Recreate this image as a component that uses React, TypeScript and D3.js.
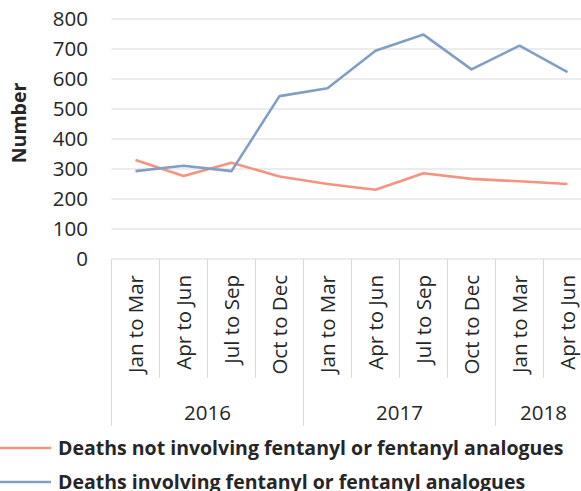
import React from "react";
import * as d3 from "d3";

const categories = [
  "Jan to Mar", "Apr to Jun", "Jul to Sep", "Oct to Dec",
  "Jan to Mar", "Apr to Jun", "Jul to Sep", "Oct to Dec",
  "Jan to Mar", "Apr to Jun",
];
const years = ["2016", "2017", "2018"];
const yearCounts = [4, 4, 2];
const notInvolving = [330, 277, 321, 275, 250, 231, 286, 267, 259, 250];
const involving = [293, 311, 293, 543, 569, 694, 748, 632, 711, 623];
const yTicks = [0, 100, 200, 300, 400, 500, 600, 700, 800];
const seriesNames = [
  "Deaths not involving fentanyl or fentanyl analogues",
  "Deaths involving fentanyl or fentanyl analogues",
];
const seriesColors = ["#F4937F", "#819FC5"];

const W = 581;
const H = 491;
const FONT = "'Open Sans', 'DejaVu Sans', sans-serif";

export default function App() {
  const left = 111.5;
  const bandW = 48;
  const x = d3
    .scaleBand<number>()
    .domain(categories.map((_, i) => i))
    .range([left, left + bandW * categories.length])
    .paddingInner(0)
    .paddingOuter(0);
  const y = d3.scaleLinear().domain([0, 800]).range([259, 19]);
  const cx = (i: number) => (x(i) as number) + x.bandwidth() / 2;

  const line = d3
    .line<number>()
    .x((_, i) => cx(i))
    .y((d) => y(d));

  const grid = "#D9D9D9";
  const textColor = "#262626";

  let start = 0;
  const groups = years.map((yr, gi) => {
    const s = start;
    const e = start + yearCounts[gi];
    start = e;
    return { yr, s, e };
  });

  return (
    <svg
      width={W}
      height={H}
      style={{ position: "absolute", left: 0, top: 0, background: "#fff" }}
      fontFamily={FONT}
    >
      {yTicks.map((t) => (
        <line key={"g" + t} x1={left} x2={W} y1={y(t)} y2={y(t)} stroke={grid} strokeWidth={1} />
      ))}
      {yTicks.map((t) => (
        <text
          key={"t" + t}
          x={88}
          y={y(t)}
          dy="0.36em"
          textAnchor="end"
          fontSize={20.5}
          fill={textColor}
        >
          {t}
        </text>
      ))}
      <text
        transform={`translate(26,123) rotate(-90)`}
        textAnchor="middle"
        fontSize={19.5}
        fontWeight="bold"
        fill={textColor}
      >
        Number
      </text>

      {categories.map((_, i) => (
        <line
          key={"s" + i}
          x1={x(i) as number}
          x2={x(i) as number}
          y1={259}
          y2={378}
          stroke={grid}
          strokeWidth={1}
        />
      ))}
      {groups.map((g) => (
        <line
          key={"ys" + g.yr}
          x1={x(g.s) as number}
          x2={x(g.s) as number}
          y1={259}
          y2={426}
          stroke={grid}
          strokeWidth={1}
        />
      ))}
      <line
        x1={left + bandW * categories.length}
        x2={left + bandW * categories.length}
        y1={259}
        y2={426}
        stroke={grid}
      />

      {categories.map((c, i) => (
        <text
          key={"c" + i}
          transform={`translate(${cx(i)},275) rotate(-90)`}
          dy="0.36em"
          textAnchor="end"
          fontSize={20.5}
          fill={textColor}
        >
          {c}
        </text>
      ))}
      {groups.map((g) => (
        <text
          key={"y" + g.yr}
          x={((x(g.s) as number) + (x(g.e - 1) as number) + bandW) / 2}
          y={420}
          textAnchor="middle"
          fontSize={20.5}
          fill={textColor}
        >
          {g.yr}
        </text>
      ))}

      <path d={line(notInvolving) || ""} fill="none" stroke={seriesColors[0]} strokeWidth={2.6} strokeLinejoin="round" />
      <path d={line(involving) || ""} fill="none" stroke={seriesColors[1]} strokeWidth={2.6} strokeLinejoin="round" />

      {seriesNames.map((n, i) => (
        <g key={"l" + i}>
          <line x1={0} x2={51} y1={448 + i * 34} y2={448 + i * 34} stroke={seriesColors[i]} strokeWidth={2.6} />
          <text
            x={58}
            y={454.5 + i * 34}
            fontSize={19.5}
            fontWeight="bold"
            fill={textColor}
          >
            {n}
          </text>
        </g>
      ))}
    </svg>
  );
}
